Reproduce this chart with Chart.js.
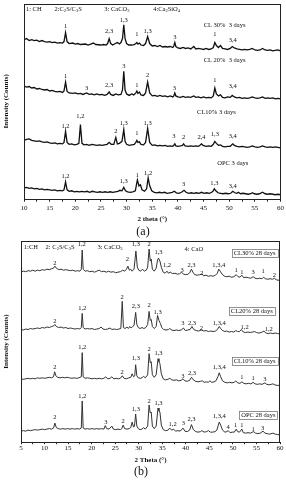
<!DOCTYPE html>
<html>
<head>
<meta charset="utf-8">
<script src="https://cdn.jsdelivr.net/npm/chart.js@4.4.1/dist/chart.umd.min.js"></script>
<style>
  html, body { margin: 0; padding: 0; background: #fff; }
  body { width: 286px; height: 480px; position: relative; overflow: hidden; }
  canvas { position: absolute; left: 0; }
  #chartA { top: 0; }
  #chartB { top: 236px; }
  .cap { position: absolute; font-family: 'Liberation Serif', serif; font-size: 12px; color: #111; width: 40px; text-align: center; }
</style>
</head>
<body>
<canvas id="chartA" width="286" height="224"></canvas>
<canvas id="chartB" width="286" height="230"></canvas>
<div class="cap" style="left:123px; top:224px;">(a)</div>
<div class="cap" style="left:121px; top:464px;">(b)</div>
<script>
// --- DATA: panel (a), 3 days, [2theta, intensity] ---
const cl30_3d = [[10,161],[10.5,162],[11,160],[11.5,161],[12,160],[12.5,160.5],[13,159],[13.5,160],[14,159],[14.5,158.5],[15,159],[15.5,158],[16,158.5],[16.5,157.5],[17,158],[17.5,157.5],[17.8,159],[18.1,168],[18.4,159],[18.8,157],[19.5,157.5],[20,156.5],[20.5,157],[21,156],[22,156.5],[22.5,155.5],[23,156.5],[23.5,157.5],[24,156],[25,155.5],[25.5,156],[26,155.5],[26.3,157],[26.6,162],[26.9,157],[27.3,155.5],[27.8,157],[28.2,158],[28.6,156.5],[28.9,158],[29.2,162],[29.45,176],[29.7,162],[30,157],[30.4,155.5],[31,155.5],[31.5,156],[31.8,157],[32,158],[32.2,156.5],[32.5,157.5],[32.8,155.5],[33.3,155],[33.7,157],[34.1,164],[34.5,157],[35,154.5],[35.5,155],[36,154],[36.5,155],[37,153.5],[37.5,154],[38,153.5],[38.5,154],[39,153],[39.2,154.5],[39.4,158],[39.6,154],[40,152.5],[40.5,152],[41,153],[41.5,152],[42,152.5],[42.5,151.5],[43.1,154],[43.5,151.5],[44,152],[44.5,151.5],[45,151],[45.5,152],[46,151],[46.5,151.5],[46.9,153],[47.2,158],[47.5,155],[47.9,153],[48.3,155],[48.7,152],[49.2,151.5],[49.7,151],[50.2,152],[50.6,154],[51,152.5],[51.5,151.5],[52,151],[52.5,150.5],[53,151],[53.5,150.5],[54,151],[54.5,152],[55,150.5],[55.5,150],[56,150.5],[56.5,152],[57,150.5],[57.5,150],[58,150.5],[58.5,149.5],[59,150],[59.5,150.5],[60,149.5]];
const cl20_3d = [[10,114],[10.5,113],[11,113.5],[11.5,112],[12,112.5],[12.5,111],[13,111.5],[13.5,110.5],[14,110],[14.5,110.5],[15,109],[15.5,109.5],[16,108.5],[16.5,108],[17,108.5],[17.5,107.5],[17.8,109],[18.1,118],[18.4,108.5],[18.8,107],[19.5,106.5],[20,107],[20.5,106],[21,106.5],[21.5,105.5],[22.2,107],[22.7,105.5],[23.2,106],[23.7,105],[24.2,106],[24.7,105],[25.2,105.5],[25.7,104.5],[26.2,105.5],[26.6,108],[26.9,105.5],[27.4,104.5],[27.9,106],[28.4,105],[28.9,105.5],[29.2,110],[29.45,129],[29.7,110],[30,106],[30.5,104.5],[31,106],[31.4,105],[31.8,107],[32,109],[32.2,106.5],[32.5,108],[32.8,105],[33.3,104.5],[33.7,107],[34.1,118],[34.5,107],[35,104],[35.5,104.5],[36,103.5],[36.5,104.5],[37,103.5],[37.5,104],[38,103],[38.5,104],[39,103],[39.2,104],[39.4,107],[39.6,104],[40,103],[40.5,102.5],[41,103.5],[41.5,102.5],[42,103],[42.5,102.5],[43.1,104],[43.5,102.5],[44,103],[44.5,102],[45,103],[45.5,102],[46,102.5],[46.5,102],[46.9,104],[47.2,112],[47.5,106],[47.9,104],[48.3,105],[48.7,102.5],[49.2,102],[49.7,103],[50.2,102.5],[50.6,104.5],[51,103],[51.5,102],[52,102.5],[52.5,101.5],[53,102],[53.5,101.5],[54,102],[54.5,103],[55,102],[55.5,101.5],[56,102],[56.5,103],[57,101.5],[57.5,102],[58,101.5],[58.5,102],[59,101],[59.5,101.5],[60,101]];
const cl10_3d = [[10,59],[10.5,60],[11,60.5],[11.5,59],[12,58.5],[12.5,58],[13,58.5],[13.5,57.5],[14,57],[14.5,57.5],[15,56.5],[15.5,56],[16,56.5],[16.5,55.5],[17,56],[17.5,55.5],[17.8,57],[18.1,68],[18.4,57],[18.8,55],[19.3,55.5],[19.8,54.5],[20.3,55],[20.7,56],[21,75],[21.3,56],[21.7,54.5],[22.2,55],[22.7,54],[23.2,55],[23.7,54.5],[24.2,54],[24.7,54.5],[25.2,54],[25.7,54.5],[26.2,55],[26.6,57],[27,55],[27.5,55],[27.9,62],[28.2,55.5],[28.6,56],[29.1,58],[29.45,70],[29.7,58],[30,55],[30.5,54],[31,54.5],[31.5,55],[31.8,57],[32,59],[32.2,57],[32.5,57.5],[32.8,55],[33.3,54.5],[33.7,57],[34.1,71],[34.5,57],[35,54],[35.5,54.5],[36,53.5],[36.5,54],[37,53.5],[37.5,54],[38,53],[38.5,53.5],[39,53],[39.2,54],[39.4,55.5],[39.6,53.5],[40,53],[40.5,53.5],[40.9,54],[41.1,55.5],[41.4,53.5],[42,53],[42.5,53.5],[43,53],[43.5,53.5],[44,53],[44.3,54],[44.6,55.5],[44.9,54],[45.5,53],[46,53.5],[46.5,53],[46.9,55],[47.2,58],[47.5,56],[47.9,54],[48.3,54.5],[48.7,53],[49.2,52.5],[49.7,53],[50.2,53],[50.7,55.5],[51,54],[51.5,53],[52,52.5],[52.5,53],[53,52.5],[53.5,52],[54,52.5],[54.5,53.5],[55,52.5],[55.5,52],[56,52.5],[56.5,53.5],[57,52.5],[57.5,52],[58,52.5],[58.5,52],[59,52.5],[59.5,52],[60,51.5]];
const opc_3d = [[10,11],[10.5,11.5],[11,10.5],[11.5,11],[12,10],[12.5,10.5],[13,9.5],[13.5,10],[14,9],[14.5,9.5],[15,9],[15.5,8.5],[16,9],[16.5,8],[17,8.5],[17.5,8],[17.8,9],[18.1,17],[18.4,9],[18.8,7.5],[19.3,8],[19.8,7],[20.3,7.5],[20.8,7],[21.3,7.5],[21.8,7],[22.3,7.5],[22.8,6.5],[23.3,7.5],[23.8,7],[24.3,6.5],[24.8,7],[25.3,6.5],[25.8,7],[26.3,6.5],[26.8,7],[27.3,6.5],[27.8,7],[28.3,7.5],[28.7,8.5],[29.1,8],[29.45,11.5],[29.8,8],[30.2,7],[30.7,6.5],[31.2,7],[31.7,8],[32.1,19],[32.4,13],[32.7,14],[33,9],[33.5,7.5],[33.9,10],[34.2,21],[34.5,13],[34.9,8],[35.4,6.5],[35.9,6],[36.4,6.5],[36.9,6],[37.4,6.5],[37.9,5.5],[38.4,6],[38.9,6.5],[39.3,7.5],[39.7,6],[40.2,5.5],[40.7,6.5],[41.2,8.5],[41.6,6.5],[42.1,5.5],[42.6,6],[43.1,5.5],[43.6,6],[44.1,5.5],[44.6,6.5],[45.1,5.5],[45.6,6],[46.1,5.5],[46.6,6.5],[46.9,8],[47.1,10],[47.4,8],[47.8,6],[48.3,5.5],[48.8,5],[49.3,5.5],[49.8,5],[50.3,5.5],[50.7,7.5],[51.1,6],[51.5,5.5],[51.8,6.5],[52.2,5],[52.7,5.5],[53.2,5],[53.7,4.5],[54.2,5],[54.5,6],[54.9,5],[55.4,4.5],[55.9,5],[56.5,6.5],[57,5],[57.5,4.5],[58,5],[58.5,4.5],[59,4],[59.5,4.5],[60,4]];

// --- DATA: panel (b), 28 days ---
const cl30_28d = [[5,169],[5.5,170],[6,169.5],[6.5,170.5],[7,170],[7.5,171],[8,170],[8.5,171],[9,170.5],[9.5,171.5],[10,171],[10.5,172],[11,171.5],[11.5,172.5],[11.9,173],[12.2,175],[12.5,173],[13,171.5],[13.5,172],[14,171],[14.5,171.5],[15,171],[15.5,170.5],[16,171],[16.5,170],[17,170.5],[17.5,170],[17.8,172],[18,191],[18.2,172],[18.6,170],[19.1,170.5],[19.6,169.5],[20.1,170],[20.6,169],[21.1,170],[21.6,171],[22.1,169.5],[22.6,170],[23.1,169],[23.6,170],[24.1,169],[24.6,169.5],[25.1,168.5],[25.6,169],[26.1,169.5],[26.6,171],[27,170],[27.4,172],[27.7,175],[28,171],[28.3,172],[28.6,170],[29,172],[29.4,190],[29.7,174],[30,171],[30.4,170],[30.8,172],[31.2,170],[31.6,171],[31.9,174],[32.2,192],[32.45,180],[32.65,182],[32.9,172],[33.3,170],[33.7,173],[34,181],[34.2,183],[34.5,180],[34.8,174],[35.2,169],[35.6,168],[36,170],[36.3,168],[36.7,169],[37.2,167.5],[37.7,168],[38.2,167],[38.7,167.5],[39.1,169],[39.5,167],[40,166.5],[40.5,167],[40.9,169],[41.2,172],[41.5,169],[41.9,166.5],[42.4,166],[42.9,166.5],[43.4,167],[43.8,165.5],[44.3,166],[44.8,165],[45.3,165.5],[45.8,165],[46.3,166],[46.7,168],[47,172],[47.3,170],[47.7,167],[48.2,165],[48.7,164.5],[49.2,165],[49.7,164],[50.2,164.5],[50.7,166.5],[51.1,164.5],[51.5,164],[51.9,166],[52.3,163.5],[52.8,164],[53.3,163.5],[53.8,163],[54.3,164.5],[54.7,163],[55.2,162.5],[55.7,163],[56.2,162.5],[56.5,164],[56.9,162.5],[57.4,162],[57.9,162.5],[58.4,162],[58.8,163],[59.2,161.5],[59.6,161],[60,161]];
const cl20_28d = [[5,112],[5.5,111.5],[6,112.5],[6.5,112],[7,113],[7.5,112.5],[8,113],[8.5,113.5],[9,113],[9.5,114],[10,113.5],[10.5,114.5],[11,114],[11.5,115],[11.9,115.5],[12.2,117],[12.5,115],[13,114],[13.5,114.5],[14,113.5],[14.5,114],[15,113],[15.5,113.5],[16,113],[16.5,112.5],[17,113],[17.5,112.5],[17.8,114],[18,128],[18.2,114],[18.6,112.5],[19.1,113],[19.6,112.5],[20.1,113],[20.6,112],[21.1,112.5],[21.6,113],[22,114.5],[22.4,112.5],[22.9,112],[23.4,112.5],[23.9,113.5],[24.3,112],[24.8,112.5],[25.3,112],[25.8,112.5],[26.2,113],[26.5,140],[26.75,114],[27.1,113],[27.5,114.5],[27.8,113],[28.1,115],[28.4,113.5],[28.7,115],[29,116],[29.35,129],[29.6,117],[29.9,114],[30.3,113],[30.7,114],[31.1,113],[31.5,114],[31.9,117],[32.2,130],[32.45,121],[32.65,122],[32.9,115],[33.3,113],[33.7,115],[34,126],[34.3,121],[34.6,118],[34.9,114],[35.3,112],[35.8,111.5],[36.3,112],[36.6,113],[37,111.5],[37.5,111],[38,111.5],[38.5,111],[39,111.5],[39.5,113.5],[39.9,111],[40.4,111.5],[40.9,112],[41.3,115],[41.7,112],[42.2,111],[42.7,110.5],[43.3,111.5],[43.8,110.5],[44.3,111],[44.8,110],[45.3,110.5],[45.8,110],[46.3,110.5],[46.7,112],[47.1,115],[47.4,113],[47.8,111],[48.3,110],[48.7,110.5],[49.2,109.5],[49.7,110],[50.2,109.5],[50.6,111],[51,110],[51.4,110],[51.8,112],[52.2,109.5],[52.7,109],[53.2,109.5],[53.7,109],[54.2,109.5],[54.6,110],[55,109],[55.5,108.5],[56,109],[56.6,110.5],[57,108.5],[57.5,108],[58,108.5],[58.5,108],[59,108.5],[59.5,108],[60,107.5]];
const cl10_28d = [[5,63],[5.5,62.5],[6,63],[6.5,63.5],[7,63],[7.5,63.5],[8,63],[8.5,64],[9,63.5],[9.5,64],[10,63.5],[10.5,64],[11,64.5],[11.5,64],[11.9,65],[12.15,70],[12.4,66],[12.8,64.5],[13.3,64],[13.8,64.5],[14.3,64],[14.8,64.5],[15.3,64],[15.8,63.5],[16.3,64],[16.8,63.5],[17.3,64],[17.8,65],[18,89],[18.2,65],[18.6,63.5],[19.1,64],[19.6,63.5],[20.1,63],[20.6,63.5],[21.1,63],[21.6,63.5],[22.1,63],[22.6,63.5],[23,65],[23.4,63],[23.9,63.5],[24.3,65],[24.7,63],[25.2,63.5],[25.7,63],[26.1,63.5],[26.5,66],[26.9,63.5],[27.4,63],[27.9,64],[28.3,64.5],[28.6,68],[28.9,65],[29.15,66],[29.35,77],[29.6,66],[29.9,64],[30.3,63.5],[30.7,64],[31,65.5],[31.4,64],[31.9,67],[32.2,88],[32.45,79],[32.65,80],[32.9,67],[33.3,64.5],[33.7,67],[34.1,83],[34.3,80],[34.5,78],[34.8,68],[35.2,63],[35.7,62],[36.2,62.5],[36.6,63.5],[37,62],[37.5,61.5],[38,62],[38.5,61],[39,61.5],[39.4,63],[39.8,61],[40.3,60.5],[40.8,61.5],[41.2,64.5],[41.6,62],[42.1,60.5],[42.6,60],[43.1,60.5],[43.5,61],[43.9,59.5],[44.4,60],[44.8,59.5],[45.1,61],[45.5,59.5],[46,60],[46.4,61],[46.8,65],[47.1,69],[47.4,65],[47.8,61],[48.3,59.5],[48.8,59],[49.3,59.5],[49.8,59],[50.3,59.5],[50.6,61],[51,59],[51.5,58.5],[51.9,60],[52.3,58.5],[52.8,58],[53.3,58.5],[53.8,58],[54.3,59.5],[54.7,58],[55.2,57.5],[55.7,58],[56.2,57.5],[56.8,59],[57.2,57.5],[57.7,57],[58.1,57.5],[58.5,58],[58.9,57],[59.4,56.5],[60,56.5]];
const opc_28d = [[5,11],[5.5,11.5],[6,11],[6.5,12],[7,11.5],[7.5,12],[8,12.5],[8.5,12],[9,12.5],[9.5,13],[10,12.5],[10.5,13],[11,13.5],[11.5,13],[11.9,14],[12.2,19],[12.5,14.5],[12.9,13.5],[13.4,13],[13.9,13.5],[14.4,13],[14.9,13.5],[15.4,13],[15.9,13.5],[16.4,13],[16.9,13.5],[17.4,13],[17.8,14],[18,41],[18.2,14],[18.6,13],[19.1,13.5],[19.6,13],[20.1,13.5],[20.6,13],[21.1,13.5],[21.6,13],[22.1,13.5],[22.6,13],[22.9,16.5],[23.2,13.5],[23.7,13],[24.3,16],[24.6,13],[25.1,12.5],[25.6,13],[26.1,12.5],[26.4,13.5],[26.7,17],[27,13.5],[27.5,13],[28,13.5],[28.3,14.5],[28.6,20],[28.9,15],[29.1,16],[29.35,28],[29.6,16],[29.9,13.5],[30.3,12.5],[30.7,13],[31,14.5],[31.4,13],[31.9,16],[32.2,37],[32.45,29],[32.65,30],[32.9,16],[33.3,13.5],[33.7,16],[34.1,34],[34.3,31],[34.5,30],[34.8,17],[35.2,12.5],[35.7,11.5],[36.2,12],[36.6,14],[37,12],[37.4,13],[37.8,11],[38.3,11.5],[38.8,11],[39.4,14],[39.8,11],[40.3,10.5],[40.8,12],[41.2,17.5],[41.6,12.5],[42.1,10.5],[42.6,10],[43.1,10.5],[43.4,11.5],[43.9,10],[44.4,10.5],[44.8,11.5],[45.2,10],[45.7,10],[46.2,10.5],[46.6,12],[46.9,17],[47.1,20],[47.4,17],[47.8,12],[48.3,10],[48.7,10.5],[49,11.5],[49.4,9.5],[49.9,10],[50.3,10],[50.7,13],[51,10.5],[51.4,10],[51.9,13],[52.2,9.5],[52.7,9],[53.2,9.5],[53.7,9],[54.4,10.5],[54.8,9],[55.3,8.5],[55.8,9],[56.4,11],[56.8,9],[57.3,8.5],[57.8,8],[58.5,9],[59,8],[59.5,7.5],[60,7.5]];

// --- TEXT ON THE PLOTS: [2theta, intensity, text] ---
const keyA = [[11.9,192,'1: CH'],[18.6,192,'2:C_2S/C_3S'],[28.1,192,'3: CaCO_3'],[37.8,192,'4:Ca_2SiO_4']];
const namesA = [[49.1,175,'CL 30%  3 days'],[49.1,140,'CL 20%  3 days'],[47.5,87,'CL10% 3 days'],[50.7,36,'OPC 3 days']];
const peaksA = [
  [18.1,174,'1'],[26.6,169,'2,3'],[29.45,181,'1,3'],[32,166,'1'],[34.1,169,'1,3'],[39.4,163,'3'],[47.2,166,'1'],[50.7,160,'3,4'],
  [18.1,124,'1'],[22.2,112,'3'],[26.6,115,'2,3'],[29.45,134,'3'],[32,115,'1'],[34.1,125,'2'],[39.3,112,'3'],[47.2,120,'1'],[50.7,114,'3,4'],
  [18.1,73,'1,2'],[21,83,'1,2'],[27.9,68,'2'],[29.45,76,'1,3'],[32,66,'1'],[34.1,76,'1,3'],[39.2,63,'3'],[41.1,62,'2'],[44.6,62,'2,4'],[47.2,65,'1,3'],[50.7,63,'3,4'],
  [18.1,23,'1,2'],[29.45,18,'1,3'],[32.1,24,'1'],[34.2,26,'1,2'],[41.1,15,'3'],[47.1,16,'1,3'],[50.7,13,'3,4']
];
const keyB = [[7.1,194,'1:CH'],[13.3,194,'2: C_2S/C_3S'],[23.9,194,'3: CaCO_3'],[41.7,192,'4: CaO']];
const namesB = [[54.6,188,'CL30% 28 days'],[54,130,'CL20% 28 days'],[54.6,80.5,'CL10% 28 days'],[55.4,27,'OPC 28 days']];
const peaksB = [
  [12.2,178,'2'],[17.9,197,'1,2'],[27.6,182,'2'],[29.4,197,'1,3'],[32.2,197,'2'],[34.2,189,'1,3'],[36,176,'1,2'],[39.2,171,'3'],[41.2,176,'2,3'],[43.4,168,'2'],[47,176,'1,3,4'],[50.7,171,'1'],[51.9,169,'1'],[54.3,169,'3'],[56.4,170,'1'],[58.8,166,'2'],
  [12.2,120,'2'],[18,133,'1,2'],[26.5,144,'2'],[29.4,135,'2,3'],[32.2,136,'2'],[34,129,'1,3'],[39.4,118,'3'],[41.3,118,'2,3'],[43.3,113,'2'],[47.1,118,'1,3,4'],[52.5,114,'1,2'],[57.6,112,'1,2'],
  [12.2,74,'2'],[18,94,'1,2'],[26.5,69,'2'],[29.4,83,'1,3'],[32.2,92,'2'],[34.2,88,'1,3'],[39.4,66,'3'],[41.3,68,'2,3'],[47.1,74,'1,3,4'],[51.9,65,'1'],[54.3,64,'1'],[56.8,63,'3'],
  [12.2,25,'2'],[18,46,'1,2'],[23,20,'3'],[26.7,21,'2'],[29.4,33,'1,3'],[32.2,41,'2'],[34.2,39,'1,3'],[37.2,18,'1,2'],[39.5,19,'3'],[41.2,23,'2,3'],[47.1,26,'1,3,4'],[49,15,'4'],[50.6,17,'1'],[51.9,17,'1'],[54.3,13,'1'],[56.3,14,'3']
];

const FONT = "'Liberation Serif', 'DejaVu Serif', serif";
const INK = '#111';

// --- small helper: text with "_x" subscripts, centred on x ---
function richParts(text) {
    const parts = [];
    for (let i = 0; i < text.length; i++) {
        if (text[i] === '_') { parts.push({ t: text[i + 1], sub: true }); i++; }
        else parts.push({ t: text[i], sub: false });
    }
    return parts;
}

function drawRich(ctx, text, cx, cy, size) {
    const parts = richParts(text);
    let total = 0;
    parts.forEach(p => {
        ctx.font = `${p.sub ? size * 0.7 : size}px ${FONT}`;
        p.w = ctx.measureText(p.t).width;
        total += p.w;
    });
    let x = cx - total / 2;
    ctx.textAlign = 'left';
    ctx.textBaseline = 'middle';
    parts.forEach(p => {
        ctx.font = `${p.sub ? size * 0.7 : size}px ${FONT}`;
        ctx.fillText(p.t, x, p.sub ? cy + size * 0.3 : cy);
        x += p.w;
    });
    return total;
}

// --- plugin: frame, y title, peak labels, keys, sample names ---
const decor = {
    id: 'decor',
    afterDatasetsDraw(chart, args, opts) {
        const { ctx, chartArea: a, scales: { x, y } } = chart;
        ctx.save();
        ctx.fillStyle = INK;
        opts.peaks.forEach(([t, v, s]) => drawRich(ctx, s, x.getPixelForValue(t), y.getPixelForValue(v), 6.5));
        opts.key.forEach(([t, v, s]) => drawRich(ctx, s, x.getPixelForValue(t), y.getPixelForValue(v), 6.5));
        opts.names.forEach(([t, v, s]) => {
            const cx = x.getPixelForValue(t), cy = y.getPixelForValue(v);
            const w = drawRich(ctx, s, cx, cy, 6.5);
            if (opts.boxed) {
                ctx.strokeStyle = '#777';
                ctx.lineWidth = 0.8;
                ctx.strokeRect(Math.round(cx - w / 2 - 2) + 0.5, Math.round(cy - 4) + 0.5, Math.round(w + 4), 8);
            }
        });
        // frame
        ctx.strokeStyle = '#222';
        ctx.lineWidth = 1;
        ctx.strokeRect(Math.round(a.left) + 0.5, Math.round(a.top) + 0.5, Math.round(a.right - a.left) - 1, Math.round(a.bottom - a.top));
        // y title
        ctx.translate(6, (a.top + a.bottom) / 2);
        ctx.rotate(-Math.PI / 2);
        ctx.font = `bold 7px ${FONT}`;
        ctx.textAlign = 'center';
        ctx.textBaseline = 'middle';
        ctx.fillText('Intensity (Counts)', 0, 0);
        ctx.restore();
    }
};

function makeChart(id, series, cfg) {
    new Chart(document.getElementById(id), {
        type: 'scatter',
        data: {
            datasets: series.map(s => ({
                data: s,
                showLine: true,
                borderColor: cfg.lineColor,
                borderWidth: cfg.lineWidth,
                pointRadius: 0,
                tension: 0
            }))
        },
        options: {
            responsive: false,
            animation: false,
            devicePixelRatio: 1,
            layout: { padding: cfg.padding },
            plugins: {
                legend: { display: false },
                tooltip: { enabled: false },
                decor: { peaks: cfg.peaks, key: cfg.key, names: cfg.names, boxed: cfg.boxed }
            },
            scales: {
                x: {
                    type: 'linear',
                    min: cfg.xmin,
                    max: 60,
                    afterBuildTicks: ax => {
                        const t = [];
                        for (let v = cfg.xmin; v <= 60; v += 2.5) t.push({ value: v });
                        ax.ticks = t;
                    },
                    ticks: {
                        autoSkip: false,
                        maxRotation: 0,
                        padding: cfg.tickPad,
                        color: INK,
                        font: { family: FONT, size: 7 },
                        callback: v => (v % 5 === 0 ? v : '')
                    },
                    grid: { display: true, drawOnChartArea: false, drawTicks: true, tickLength: cfg.tickLen, color: '#222' },
                    border: { display: false },
                    title: {
                        display: true,
                        text: cfg.xTitle,
                        color: INK,
                        font: { family: FONT, size: 7, weight: 'bold' },
                        padding: { top: cfg.titlePad, bottom: 0 }
                    }
                },
                y: { display: false, min: 0, max: cfg.ymax }
            }
        },
        plugins: [decor]
    });
}

window.onload = () => {
    makeChart('chartA', [cl30_3d, cl20_3d, cl10_3d, opc_3d], {
        xmin: 10, ymax: 197, padding: { left: 24, right: 5, top: 4, bottom: 1 },
        tickLen: 3, tickPad: 2, titlePad: 0.5, xTitle: '2 theta (°)',
        lineColor: '#111', lineWidth: 1.3,
        peaks: peaksA, key: keyA, names: namesA, boxed: false
    });
    makeChart('chartB', [cl30_28d, cl20_28d, cl10_28d, opc_28d], {
        xmin: 5, ymax: 200, padding: { left: 21, right: 6, top: 5, bottom: 2 },
        tickLen: 2, tickPad: 0, titlePad: 3, xTitle: '2 Theta (°)',
        lineColor: '#333', lineWidth: 1,
        peaks: peaksB, key: keyB, names: namesB, boxed: true
    });
};
</script>
</body>
</html>
